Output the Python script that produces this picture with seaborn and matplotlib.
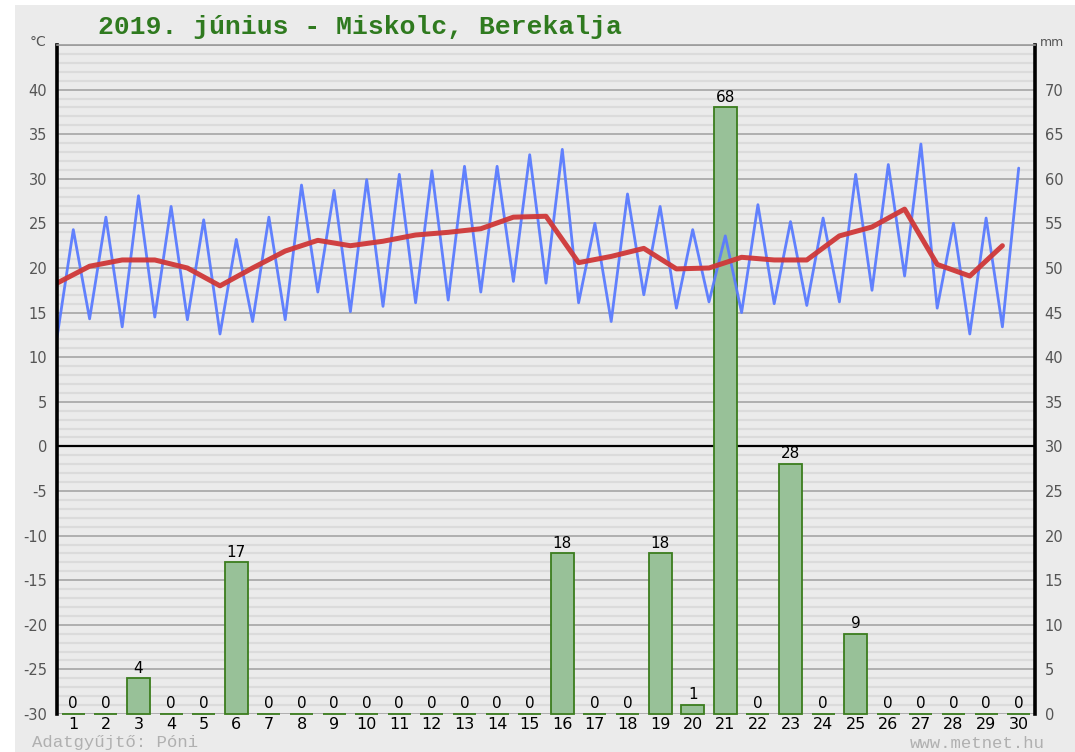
import numpy as np
import pandas as pd
import matplotlib
matplotlib.use("Agg")
import matplotlib.pyplot as plt
from matplotlib.patches import Rectangle
import seaborn as sns

# ==========================================================
# Data
# ==========================================================

DAYS = list(range(1, 31))

T_MIN = [12.2, 14.3, 13.4, 14.5, 14.2, 12.6, 14.0, 14.2, 17.3, 15.1,
         15.7, 16.1, 16.4, 17.3, 18.5, 18.3, 16.1, 14.0, 17.0, 15.5,
         16.2, 15.0, 16.0, 15.8, 16.2, 17.5, 19.1, 15.5, 12.6, 13.4]

T_MAX = [24.3, 25.7, 28.1, 26.9, 25.4, 23.2, 25.7, 29.3, 28.7, 29.9,
         30.5, 30.9, 31.4, 31.4, 32.7, 33.3, 25.0, 28.3, 26.9, 24.3,
         23.6, 27.1, 25.2, 25.6, 30.5, 31.6, 33.9, 25.0, 25.6, 31.2]

T_MEAN = [18.3, 20.2, 20.9, 20.9, 20.0, 18.0, 20.0, 21.9, 23.1, 22.5,
          23.0, 23.7, 24.0, 24.4, 25.7, 25.8, 20.6, 21.3, 22.2, 19.9,
          20.0, 21.2, 20.9, 20.9, 23.6, 24.6, 26.6, 20.4, 19.1, 22.5]

PRECIP = [0, 0, 4, 0, 0, 17, 0, 0, 0, 0,
          0, 0, 0, 0, 0, 18, 0, 0, 18, 1,
          68, 0, 28, 0, 9, 0, 0, 0, 0, 0]

TITLE = "2019. június - Miskolc, Berekalja"
FOOTER_LEFT = "Adatgyűjtő: Póni"
FOOTER_RIGHT = "www.metnet.hu"

# ==========================================================
# Styling
# ==========================================================

BG = "#ebebeb"
BLUE = "#5a7bff"
RED = "#cf3838"
BAR_FILL = "#98c198"
BAR_EDGE = "#3b7d1e"
TITLE_GREEN = "#2f7a1f"
LABEL_GRAY = "#555555"

sns.set_theme(style="white")
plt.rcParams["font.family"] = ["DejaVu Sans"]
plt.rcParams["axes.unicode_minus"] = False

# min at morning (d - 0.5), max at afternoon (d)
zigzag = pd.DataFrame({
    "x": np.ravel([[d - 0.5, d] for d in DAYS]),
    "temp": np.ravel([[lo, hi] for lo, hi in zip(T_MIN, T_MAX)]),
})
mean_df = pd.DataFrame({"x": [d - 0.5 for d in DAYS], "temp": T_MEAN})
precip_df = pd.DataFrame({"day": DAYS, "mm": PRECIP})

fig = plt.figure(figsize=(10.75, 7.52), dpi=100)
fig.patch.set_facecolor("white")
fig.add_artist(Rectangle((15 / 1075, 0), 1 - 15 / 1075, 1 - 5 / 752,
                         transform=fig.transFigure, facecolor=BG,
                         edgecolor="none", zorder=0))

ax = fig.add_axes([57 / 1075, 1 - 714 / 752, 978 / 1075, 669 / 752])
ax2 = ax.twinx()

# bars + grid on the back axis, lines on the front axis
ax.set_zorder(2)
ax.patch.set_visible(False)
ax2.patch.set_visible(False)

ax2.set_ylim(0, 75)
for v in range(0, 76):
    if v % 5 == 0:
        ax2.axhline(v, color="#aaaaaa", lw=1.3, zorder=0.5)
    else:
        ax2.axhline(v, color="#dbdbdb", lw=1.6, zorder=0.4)
ax2.axhline(30, color="black", lw=1.6, zorder=0.6)

sns.barplot(data=precip_df, x="day", y="mm", native_scale=True, width=0.7,
            color=BAR_FILL, edgecolor=BAR_EDGE, linewidth=1.3,
            saturation=1, errorbar=None, ax=ax2, zorder=2)
for bar in ax2.containers[0]:
    bar.set_clip_on(False)
ax2.bar_label(ax2.containers[0], labels=[str(v) for v in PRECIP],
              padding=2, fontsize=11, color="black")

sns.lineplot(data=zigzag, x="x", y="temp", color=BLUE, lw=2.0, ax=ax,
             sort=False, alpha=0.95)
sns.lineplot(data=mean_df, x="x", y="temp", color=RED, lw=3.6, ax=ax,
             sort=False, alpha=0.95)

ax.set_ylim(-30, 45)
ax.set_xlim(0.5, 30.5)
ax.set_yticks(range(-30, 45, 5))
ax2.set_yticks(range(0, 75, 5))
ax.set_xticks(DAYS)
ax.set_xticklabels([str(d) for d in DAYS])
ax.set_xlabel("")
ax.set_ylabel("")
ax2.set_xlabel("")
ax2.set_ylabel("")
ax.grid(False)
ax2.grid(False)

ax.tick_params(axis="y", length=0, pad=7, labelsize=10.5, labelcolor=LABEL_GRAY)
ax.tick_params(axis="x", length=0, pad=2, labelsize=11.5, labelcolor="black")
ax2.tick_params(axis="y", length=0, pad=7, labelsize=10.5, labelcolor=LABEL_GRAY)

for side, spine in ax.spines.items():
    if side in ("left", "right"):
        spine.set_visible(True)
        spine.set_color("black")
        spine.set_linewidth(2.6)
    elif side == "top":
        spine.set_visible(True)
        spine.set_color("#9a9a9a")
        spine.set_linewidth(1.2)
    else:
        spine.set_visible(False)
for spine in ax2.spines.values():
    spine.set_visible(False)

fig.text(98 / 1075, 1 - 27 / 752, TITLE, ha="left", va="center",
         fontsize=19, fontweight="bold", color=TITLE_GREEN,
         family="Liberation Mono")
fig.text(38 / 1075, 1 - 42 / 752, "°C", ha="center", va="center",
         fontsize=10, color=LABEL_GRAY)
fig.text(1052 / 1075, 1 - 43 / 752, "mm", ha="center", va="center",
         fontsize=9, color=LABEL_GRAY)
fig.text(32 / 1075, 1 - 743 / 752, FOOTER_LEFT, ha="left", va="center",
         fontsize=12.5, color="#b0b0b0", family="Liberation Mono")
fig.text(1045 / 1075, 1 - 743 / 752, FOOTER_RIGHT, ha="right", va="center",
         fontsize=12.5, color="#b0b0b0", family="Liberation Mono")

fig.savefig("out.png", dpi=100, facecolor=fig.get_facecolor())
